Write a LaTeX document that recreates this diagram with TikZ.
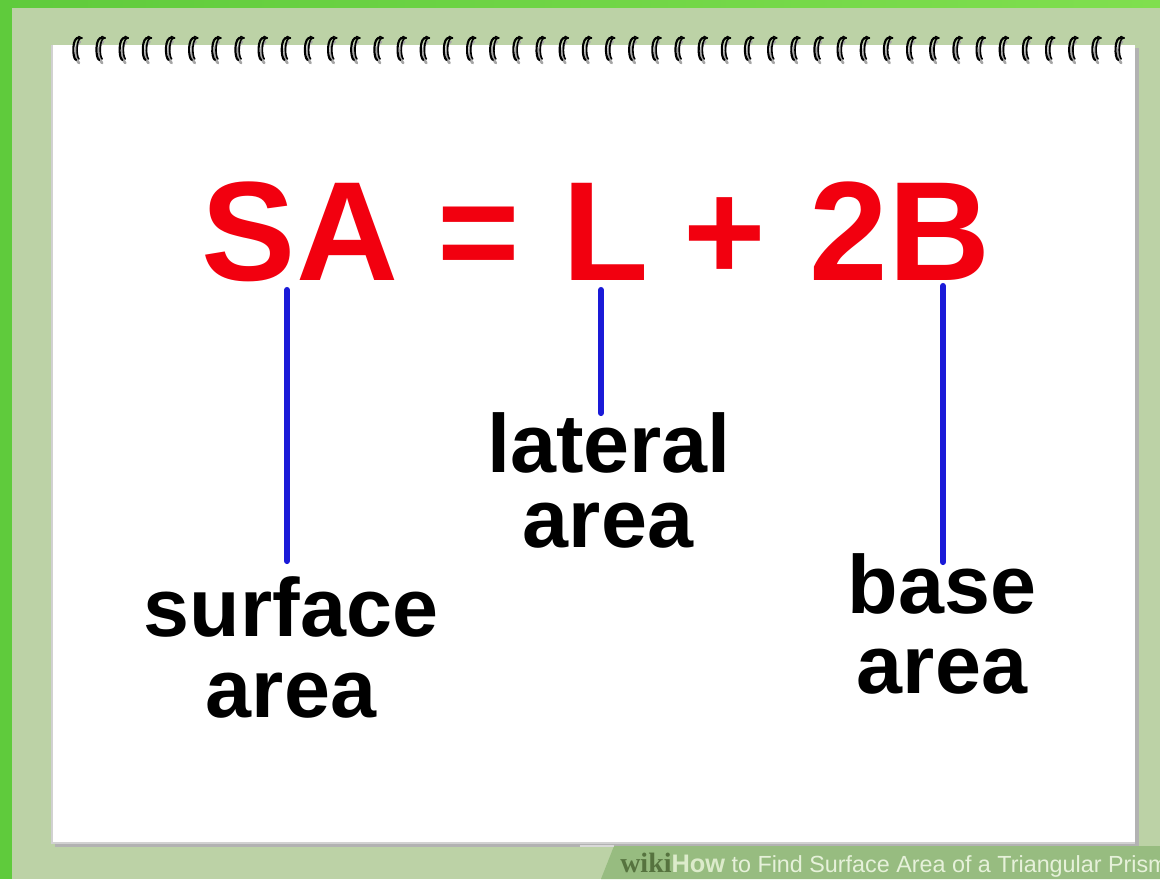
\documentclass[tikz,border=0pt]{standalone}
\usepackage{fontspec}
\setmainfont{Liberation Sans}
\newfontfamily\wikiserif{Liberation Serif}
\definecolor{bgpale}{HTML}{BCD2A6}
\definecolor{edgeL}{HTML}{5FCB3C}
\definecolor{edgeR}{HTML}{80DF4F}
\definecolor{footg}{HTML}{97BC80}
\definecolor{wikidark}{HTML}{56733F}
\definecolor{howc}{HTML}{DCEBCB}
\definecolor{footxt}{HTML}{E6F1DA}
\definecolor{eqred}{HTML}{F2000F}
\definecolor{lineblue}{HTML}{1A1AD8}
\tikzset{
  eqtext/.style={inner sep=0pt, anchor=base, text=eqred, font=\fontsize{106}{110}\selectfont\bfseries},
  lbltext/.style={inner sep=0pt, anchor=base, text=black, font=\fontsize{62}{66}\selectfont\bfseries},
  pointer/.style={draw=lineblue, line width=4.6pt, line cap=round},
  coil/.style={black, line width=1.6pt, line cap=round},
  coilshadow/.style={black!35, line width=2pt, line cap=round}
}
\begin{document}
\begin{tikzpicture}[x=0.75pt,y=-0.75pt]
\useasboundingbox (0,0) rectangle (1160,879);
% background
\fill[bgpale] (0,0) rectangle (1160,879);
\shade[left color=edgeL, right color=edgeR] (0,0) rectangle (1160,7);
\fill[edgeL] (0,0) rectangle (12,879);
% paper with shadow
\fill[black!30] (55,48) rectangle (1139,847);
\fill[white] (52,45) rectangle (1135,843);
\draw[black!18, line width=0.8pt] (52,45) -- (52,843) -- (1135,843);
% spiral binding
\foreach \i in {0,...,45} {
  \pgfmathsetmacro\sx{75+23.16*\i}
  \begin{scope}[shift={(\sx,0)}]
    \draw[coilshadow] (5,42) .. controls (0,42) and (0,60) .. (4,63);
    \draw[coil] (4,38) .. controls (-3,36) and (-3,58) .. (1,60);
    \draw[coil, line width=1.2pt] (7,38) .. controls (1,37) and (1,56) .. (4,59);
    \draw[coil, line width=1pt] (1,39) -- (4,36.5) -- (7,38);
  \end{scope}
}
% formula
\node[eqtext] (sa)   at (300,280) {SA};
\node[eqtext] (eq)   at (479,280) {=};
\node[eqtext] (lat)  at (606,280) {L};
\node[eqtext] (plus) at (725,280) {+};
\node[eqtext] (twob) at (900,280) {2B};
% labels
\node[lbltext] (surf1) at (291,636) {surface};
\node[lbltext] (surf2) at (291,717) {area};
\node[lbltext] (lat1)  at (609,472) {lateral};
\node[lbltext] (lat2)  at (608,547) {area};
\node[lbltext] (base1) at (942,613) {base};
\node[lbltext] (base2) at (942,693) {area};
% pointer lines
\coordinate (saT) at (287,290);
\coordinate (saB) at (287,561);
\coordinate (lT)  at (601,290);
\coordinate (lB)  at (601,413);
\coordinate (bT)  at (943,286);
\coordinate (bB)  at (943,562);
\draw[pointer] (saT) -- (saB);
\draw[pointer] (lT) -- (lB);
\draw[pointer] (bT) -- (bB);
% footer
\fill[footg] (614,846) -- (1160,846) -- (1160,879) -- (601,879) -- cycle;
\draw[black!15, line width=1.2pt] (580,846) -- (614,846);
\node[inner sep=0pt, anchor=base west] (foot) at (620,872)
  {{\wikiserif\bfseries\fontsize{21}{24}\selectfont\color{wikidark}wiki}{\fontsize{19}{22}\selectfont\bfseries\color{howc}How}\fontsize{17.5}{22}\selectfont\color{footxt}\ to Find Surface Area of a Triangular Prism};
\end{tikzpicture}
\end{document}
